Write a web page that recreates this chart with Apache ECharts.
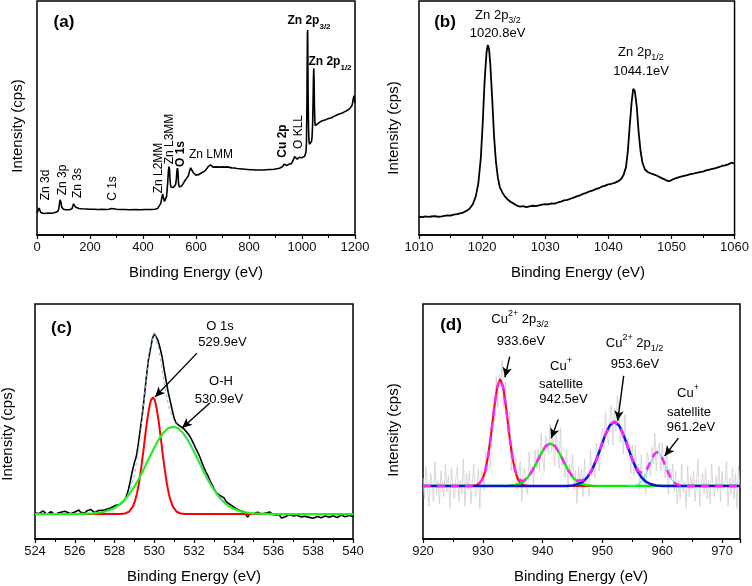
<!DOCTYPE html>
<html><head><meta charset="utf-8">
<script src="https://cdn.jsdelivr.net/npm/echarts/dist/echarts.min.js"></script>
<style>html,body{margin:0;padding:0;background:#fff}#c{width:752px;height:586px}</style>
</head><body><div id="c"></div>
<script>
// ---------------- DATA ----------------
// (a) survey spectrum [binding energy eV, relative intensity]
const surveyData = [[0,9.4],[3,9.3],[6,9.8],[8,11.5],[10,12.3],[12,11.0],[14,9.6],[18,9.3],[25,9.2],[35,9.3],[45,9.4],[55,9.3],[65,9.5],[72,9.6],[78,10.0],[82,11.2],[85,13.5],[87,15.0],[89,15.2],[91,13.8],[93,12.0],[96,11.3],[100,11.0],[108,10.8],[115,10.9],[122,10.8],[128,10.9],[132,11.2],[135,12.3],[138,13.3],[140,13.6],[142,13.0],[145,12.0],[150,11.4],[158,11.3],[170,11.2],[185,11.1],[200,11.0],[215,11.0],[230,10.9],[245,11.0],[260,10.9],[272,11.0],[280,11.3],[284,11.9],[287,11.8],[290,11.2],[300,11.0],[315,10.9],[330,10.9],[350,10.8],[370,10.9],[390,10.8],[410,10.9],[430,10.9],[445,11.0],[455,11.3],[462,12.0],[467,13.5],[471,15.8],[474,17.5],[477,16.0],[481,14.3],[485,14.5],[489,16.5],[493,22],[496,27.5],[498,29.2],[500,28.0],[502,23.5],[505,20.5],[509,19.8],[514,20.3],[519,20.8],[523,21.5],[526,24],[528,27.5],[530,28.6],[532,27],[534,22],[537,20.5],[541,20.0],[546,21.0],[552,22.0],[558,23.2],[565,24.3],[571,25.3],[576,27.4],[580,28.7],[583,29.3],[586,28.5],[590,26.6],[595,25.8],[600,25.6],[606,25.3],[612,25.9],[620,26.5],[627,27.0],[634,27.4],[640,28.0],[646,29.2],[650,29.8],[655,30.0],[659,29.5],[664,29.0],[670,29.4],[676,29.1],[682,29.3],[688,29.0],[695,29.3],[702,29.1],[710,29.0],[718,29.1],[725,28.9],[735,28.7],[745,28.6],[755,28.4],[765,28.3],[775,28.2],[785,28.1],[795,28.0],[805,27.9],[815,27.9],[825,27.8],[835,27.8],[845,27.8],[855,27.8],[865,27.9],[875,28.0],[885,28.0],[895,28.1],[905,28.3],[915,28.5],[922,28.8],[928,29.4],[932,30.3],[935,30.0],[938,29.5],[942,29.7],[946,30.0],[950,30.2],[955,30.0],[960,30.5],[964,31.2],[968,32.3],[972,33.5],[975,33.6],[978,32.8],[982,32.4],[986,32.5],[990,33.2],[993,33.8],[996,33.5],[999,33.0],[1002,33.3],[1006,33.5],[1010,33.6],[1013,34.0],[1015,35.5],[1017,40],[1018.5,55],[1019.5,72],[1020.5,86],[1021.3,87.6],[1022,78],[1023,60],[1024.5,47],[1026,41],[1028,38.8],[1030,38.3],[1032,38.6],[1034,39.2],[1036,40],[1038,42],[1040,47],[1041.5,55],[1043,66],[1044.3,71.2],[1045.5,67],[1047,55],[1048.5,48.5],[1050,46.8],[1053,46.6],[1056,47.2],[1060,47.6],[1065,48.0],[1070,48.5],[1075,48.4],[1080,48.9],[1085,49.2],[1090,49.3],[1095,49.6],[1100,49.8],[1105,50.1],[1110,50.0],[1115,50.5],[1120,50.7],[1125,50.9],[1130,51.2],[1135,51.3],[1140,51.7],[1145,51.9],[1150,52.0],[1155,52.4],[1160,52.6],[1165,53.0],[1170,53.2],[1175,53.6],[1180,54.0],[1185,54.5],[1188,55.2],[1191,56.5],[1194,58.5],[1196,59.5],[1198,58.0],[1200,56.5]];

// (b) Zn 2p region
const zn2pData = [[1010,7.8],[1010.5,7.6],[1011,8.0],[1011.5,7.7],[1012,7.9],[1012.5,8.1],[1013,7.8],[1013.3,8.6],[1013.6,8.0],[1014,8.2],[1014.5,8.4],[1015,8.3],[1015.5,8.7],[1016,8.9],[1016.5,9.2],[1017,9.6],[1017.5,10.3],[1018,11.2],[1018.5,13.0],[1019,16.5],[1019.4,22],[1019.8,33],[1020.1,48],[1020.4,66],[1020.7,78],[1020.9,81.2],[1021.1,79.5],[1021.3,73],[1021.6,58],[1021.9,42],[1022.2,31],[1022.5,24.5],[1022.8,20.5],[1023.2,18.2],[1023.6,16.5],[1024,15.3],[1024.5,14.2],[1025,13.4],[1025.5,12.6],[1026,12.1],[1026.5,12.3],[1027,11.9],[1027.5,12.2],[1028,12.5],[1028.5,12.3],[1029,12.7],[1029.5,13.0],[1030,13.2],[1030.5,13.1],[1031,13.5],[1031.5,13.4],[1032,13.9],[1032.5,14.3],[1033,14.8],[1033.5,15.0],[1034,15.5],[1034.5,16.0],[1035,16.5],[1035.5,16.9],[1036,17.6],[1036.5,18.0],[1037,18.6],[1037.5,19.0],[1038,19.6],[1038.5,20.0],[1039,20.7],[1039.5,21.1],[1040,21.6],[1040.5,21.9],[1041,22.3],[1041.5,22.9],[1042,23.8],[1042.4,25.5],[1042.8,29],[1043.1,36],[1043.4,47],[1043.7,57],[1043.95,62.5],[1044.2,61.5],[1044.5,55],[1044.8,44],[1045.1,36],[1045.4,31],[1045.8,28],[1046.3,26.8],[1046.8,26.2],[1047.3,25.8],[1047.8,25.2],[1048.3,24.5],[1048.8,23.9],[1049.3,23.2],[1049.7,23.0],[1050.1,23.6],[1050.5,24.1],[1051,24.5],[1051.5,24.9],[1052,25.3],[1052.5,25.6],[1053,26.0],[1053.5,26.2],[1054,26.6],[1054.5,26.9],[1055,27.1],[1055.5,27.6],[1056,27.9],[1056.5,28.3],[1057,28.6],[1057.5,29.0],[1058,29.5],[1058.5,29.8],[1059,30.2],[1059.5,30.9],[1060,30.5]];

// (c) O 1s region
const o1sData = [[524.0,11.0],[524.1,10.2],[524.2,10.8],[524.3,11.5],[524.4,12.0],[524.5,11.3],[524.6,10.5],[524.8,11.6],[524.9,11.0],[525.0,10.4],[525.2,11.2],[525.3,10.6],[525.5,11.8],[525.6,11.0],[525.8,10.8],[526.0,11.5],[526.2,12.3],[526.3,11.4],[526.5,11.0],[526.6,11.9],[526.8,12.6],[526.9,11.8],[527.0,11.2],[527.2,12.1],[527.3,11.4],[527.5,12.3],[527.6,12.9],[527.8,13.2],[528.0,14.1],[528.1,13.6],[528.3,14.8],[528.5,16.5],[528.6,18.2],[528.7,21.0],[528.8,24.8],[528.9,29.0],[529.0,32.5],[529.1,35.2],[529.2,40.5],[529.3,46.8],[529.4,53.0],[529.5,60.5],[529.6,68.5],[529.7,75.8],[529.8,80.5],[529.9,85.0],[530.0,87.3],[530.1,86.0],[530.2,84.2],[530.3,81.0],[530.4,77.3],[530.5,72.0],[530.6,67.2],[530.7,62.5],[530.8,58.8],[530.9,55.0],[531.0,51.5],[531.1,49.3],[531.2,48.6],[531.3,48.0],[531.4,47.5],[531.5,46.8],[531.6,46.0],[531.7,44.8],[531.8,43.6],[531.9,42.0],[532.0,40.2],[532.1,38.3],[532.2,36.7],[532.3,34.8],[532.4,32.5],[532.5,30.4],[532.6,28.6],[532.7,26.9],[532.8,25.0],[532.9,23.2],[533.0,21.5],[533.1,20.0],[533.2,19.2],[533.3,18.5],[533.4,18.8],[533.5,17.6],[533.6,16.2],[533.7,15.3],[533.8,14.6],[533.9,14.2],[534.0,13.7],[534.1,13.0],[534.2,12.6],[534.3,12.1],[534.4,12.3],[534.5,11.6],[534.6,11.0],[534.7,9.3],[534.8,10.6],[534.9,11.2],[535.0,10.7],[535.2,11.4],[535.4,10.6],[535.6,11.0],[535.8,11.5],[536.0,10.3],[536.1,9.6],[536.3,10.2],[536.4,8.9],[536.6,9.5],[536.8,10.4],[537.0,9.8],[537.2,10.1],[537.4,9.4],[537.6,9.7],[537.8,9.2],[538.0,8.8],[538.2,9.6],[538.4,9.0],[538.6,9.8],[538.8,9.3],[539.0,9.9],[539.2,9.1],[539.4,10.2],[539.6,9.5],[539.8,10.0],[540.0,9.6]];
const o1sFitLattice = [[524,10.6],[528.33,10.65],[528.53,10.85],[528.73,11.6],[528.93,13.9],[529.03,16.2],[529.13,19.4],[529.23,23.8],[529.33,29.4],[529.43,35.9],[529.53,42.9],[529.63,49.6],[529.73,55.2],[529.83,59.0],[529.93,60.3],[530.03,59.0],[530.13,55.2],[530.23,49.6],[530.33,42.9],[530.43,35.9],[530.53,29.4],[530.63,23.8],[530.73,19.4],[530.83,16.2],[530.93,13.9],[531.13,11.6],[531.33,10.85],[531.53,10.65],[540,10.6]];
const o1sFitOH = [[524,10.6],[525.95,10.6],[526.95,10.9],[527.45,11.5],[527.95,13.0],[528.2,14.3],[528.45,16.1],[528.7,18.6],[528.95,21.6],[529.2,25.2],[529.45,29.3],[529.7,33.7],[529.95,38.0],[530.2,42.0],[530.45,45.1],[530.7,47.1],[530.95,47.8],[531.2,47.1],[531.45,45.1],[531.7,42.0],[531.95,38.0],[532.2,33.7],[532.45,29.3],[532.7,25.2],[532.95,21.6],[533.2,18.6],[533.45,16.1],[533.7,14.3],[533.95,13.0],[534.45,11.5],[534.95,10.9],[535.95,10.6],[540,10.6]];
const o1sEnvelope = [[528.5,16.75],[528.75,20.2],[529.0,27.1],[529.25,40.3],[529.5,60.4],[529.75,80.1],[530.0,87.9],[530.25,80.3],[530.5,66.3],[530.75,55.5],[531.0,50.1],[531.5,44.55],[532.0,37.2],[532.5,28.5],[533.0,20.9],[533.5,15.7]];

// (d) Cu 2p region: raw data sampled from 920 eV every 0.25 eV
const cuRawStart = 920, cuRawStep = 0.25;
const cuRaw = [26,17,31,21,14,28,24,16,33,19,25,15,29,22,18,32,20,27,13,30,23,17,26,31,16,25,19,34,14,28,21,29,
15,24,32,18,20,30,13,29,28,21,37,29,
40,30,44,55,50,69,56,70,67,76,56,67,
57,45,54,29,39,29,35,21,27,33,16,28,
30,22,19,37,27,31,22,38,30,38,29,45,
36,29,44,41,36,49,37,43,31,45,38,30,
47,31,35,26,38,21,32,26,36,21,29,15,
31,23,30,18,34,22,28,18,38,27,33,26,
41,35,29,43,47,38,54,44,40,51,57,40,
55,46,61,55,41,48,36,53,38,43,36,28,
40,27,40,28,32,21,36,24,28,19,37,33,
27,39,32,45,29,38,41,29,41,31,26,40,
19,30,25,32,20,29,15,25,17,32,20,24,
13,31,18,27,21,29,16,26,34,14,23,28,19,30,17,25,15,32,22,18,27,20,31,16,29,21,24,33,14,26,19,30,17,28,13,31,22];
const cuFit2p32 = [[920,22.6],[927.9,22.6],[928.4,22.7],[928.9,22.9],[929.4,23.6],[929.9,25.3],[930.4,28.9],[930.9,35.5],[931.4,44.9],[931.9,55.7],[932.4,64.6],[932.9,68.0],[933.4,64.6],[933.9,55.7],[934.4,44.9],[934.9,35.5],[935.4,28.9],[935.9,25.3],[936.4,23.6],[936.9,22.9],[937.4,22.7],[937.9,22.6],[973,22.6]];
const cuFitSat1 = [[920,22.6],[933.3,22.6],[934.3,22.7],[935.3,22.9],[936.05,23.4],[936.8,24.4],[937.55,26.3],[938.3,29.1],[939.05,32.8],[939.8,36.6],[940.55,39.6],[941.3,40.7],[942.05,39.6],[942.8,36.6],[943.55,32.8],[944.3,29.1],[945.05,26.3],[945.8,24.4],[946.55,23.4],[947.3,22.9],[948.3,22.7],[949.3,22.6],[973,22.6]];
const cuFit2p12 = [[920,22.6],[944,22.6],[945,22.8],[946,23.4],[946.75,24.4],[947.5,26.3],[948.25,29.4],[949,33.8],[949.75,39.2],[950.5,44.5],[951.25,48.4],[952,49.9],[952.75,48.4],[953.5,44.5],[954.25,39.2],[955,33.8],[955.75,29.4],[956.5,26.3],[957.25,24.4],[958,23.4],[959,22.8],[960,22.6],[973,22.6]];
const cuFitSat2 = [[954.2,22.6],[955.2,22.7],[955.7,23.0],[956.2,23.6],[956.7,24.8],[957.2,27.0],[957.7,30.0],[958.2,33.2],[958.7,35.9],[959.2,36.9],[959.7,35.9],[960.2,33.2],[960.7,30.0],[961.2,27.0],[961.7,24.8],[962.2,23.6],[962.7,23.0],[963.2,22.7],[964.2,22.6]];
const cuEnvelope = [[920,22.6],[928,22.6],[928.9,22.9],[929.4,23.6],[929.9,25.3],[930.4,28.9],[930.9,35.5],[931.4,44.9],[931.9,55.7],[932.4,64.6],[932.9,68.0],[933.4,64.6],[933.9,55.7],[934.4,44.9],[934.9,35.7],[935.4,29.25],[935.9,26.0],[936.4,24.8],[936.9,24.9],[937.55,26.35],[938.3,29.1],[939.05,32.8],[939.8,36.6],[940.55,39.6],[941.3,40.7],[942.05,39.6],[942.8,36.6],[943.55,32.8],[944.3,29.1],[945.05,26.5],[945.8,25.0],[946.55,24.85],[947.3,26.0],[948.0,28.3],[948.75,32.25],[949.5,37.3],[950.25,42.8],[951.0,47.3],[951.5,49.2],[952.0,49.9],[952.5,49.2],[953.0,47.3],[953.75,42.8],[954.5,37.3],[955.25,32.4],[956.0,28.9],[956.75,28.0],[957.5,30.1],[958.2,33.8],[958.7,36.2],[959.2,37.05],[959.7,36.0],[960.2,33.2],[960.7,29.95],[961.2,27.0],[961.7,24.85],[962.2,23.6],[962.7,23.0],[963.2,22.7],[964,22.6],[973,22.6]];

// annotation arrows (data coordinates: [from, to])
const arrowsC = [[[532.15,79.1],[530.04,60.4]],[[532.8,57.9],[531.4,47.2]]];
const arrowsD = [[[934.5,77.6],[933.7,68.8]],[[942.6,50.9],[941.45,42.9]],[[953.55,69.4],[952.55,50.3]],[[962.7,42.9],[960.4,35.3]]];

// ---------------- CHART ----------------
const FONT = '"Liberation Sans", Arial, sans-serif';
const chart = echarts.init(document.getElementById('c'), null, {renderer:'canvas'});

const grids = [
  {left:37, top:1, width:318, height:234},
  {left:419, top:1, width:318, height:234},
  {left:35, top:304, width:318, height:235},
  {left:423, top:304, width:317, height:235}
].map(g => Object.assign({show:true, borderColor:'#000', borderWidth:1.5, backgroundColor:'transparent', containLabel:false}, g));

function xAx(gi, min, max, interval, fmt) {
  return {type:'value', gridIndex:gi, min, max, interval,
    axisLine:{show:true, onZero:false, lineStyle:{color:'#000', width:1.5}},
    axisTick:{show:true, inside:false, length:4, lineStyle:{color:'#000', width:1.2}},
    minorTick:{show:true, splitNumber:2, length:3, lineStyle:{color:'#000', width:1}},
    splitLine:{show:false}, minorSplitLine:{show:false},
    axisLabel:{fontSize:13, color:'#111', fontFamily:FONT, margin:6, formatter: fmt || (v => String(v))}};
}
function yAx(gi) {
  return {type:'value', gridIndex:gi, min:0, max:100, axisLine:{show:false}, axisTick:{show:false}, axisLabel:{show:false}, splitLine:{show:false}};
}
function line(gi, data, color, width, extra) {
  return Object.assign({type:'line', xAxisIndex:gi, yAxisIndex:gi, data, symbol:'none', showSymbol:false, silent:true, animation:false,
    lineStyle:{color, width}, emphasis:{disabled:true}}, extra || {});
}
function arrowMark(arr) {
  return {silent:true, animation:false, symbol:['none','arrow'], symbolSize:[7,10], label:{show:false},
    lineStyle:{color:'#000', width:1.4, type:'solid'}, emphasis:{disabled:true},
    data: arr.map(a => [{coord:a[0]}, {coord:a[1]}])};
}

function rich(size, bold) {
  const w = bold ? 'bold' : 'normal';
  return {
    n:{fontSize:size, fontFamily:FONT, fontWeight:w, fill:'#000', color:'#000', lineHeight:20, verticalAlign:'middle'},
    sup:{fontSize:Math.round(size*0.68), fontFamily:FONT, fontWeight:w, fill:'#000', color:'#000', lineHeight:9, verticalAlign:'top'},
    sub:{fontSize:Math.round(size*0.68), fontFamily:FONT, fontWeight:w, fill:'#000', color:'#000', lineHeight:9, verticalAlign:'bottom'}
  };
}
function txt(x, y, text, size, bold, rot) {
  return {type:'text', x, y, rotation: rot ? Math.PI/2 : 0, silent:true, z:100,
    style:{text, fill:'#000', fontSize:size, fontFamily:FONT, fontWeight: bold ? 'bold':'normal',
      align:'center', verticalAlign:'middle', textAlign:'center', textVerticalAlign:'middle', rich: rich(size, bold)}};
}

const graphics = [
  // axis names
  txt(196, 273, 'Binding Energy (eV)', 15), txt(578, 273, 'Binding Energy (eV)', 15),
  txt(194, 577, 'Binding Energy (eV)', 15), txt(581, 577, 'Binding Energy (eV)', 15),
  txt(17.5, 126, 'Intensity (cps)', 15, false, true), txt(393.5, 128, 'Intensity (cps)', 15, false, true),
  txt(8, 434, 'Intensity (cps)', 15, false, true), txt(393.5, 430, 'Intensity (cps)', 15, false, true),
  // panel letters
  txt(64, 22, '(a)', 17, true), txt(445, 22, '(b)', 17, true), txt(61.5, 328, '(c)', 17, true), txt(451, 325, '(d)', 17, true),
  // (a) peak labels
  txt(309, 21, '{n|Zn 2p}{sub|3/2}', 12, true), txt(330, 62, '{n|Zn 2p}{sub|1/2}', 12, true),
  txt(45.5, 185, 'Zn 3d', 12, false, true), txt(63, 180, 'Zn 3p', 12, false, true), txt(77.5, 183, 'Zn 3s', 12, false, true),
  txt(112.5, 188.5, 'C 1s', 12, false, true), txt(158.5, 168, 'Zn L2MM', 12, false, true), txt(170, 139, 'Zn L3MM', 12, false, true),
  txt(180.5, 154, 'O 1s', 12, true, true), txt(211, 155, 'Zn LMM', 12), txt(282.5, 141, 'Cu 2p', 12, true, true),
  txt(298.5, 132, 'O KLL', 12, false, true),
  // (b)
  txt(498, 15, '{n|Zn 2p}{sub|3/2}', 13), txt(497.5, 33, '1020.8eV', 13),
  txt(641, 52, '{n|Zn 2p}{sub|1/2}', 13), txt(641, 71, '1044.1eV', 13),
  // (c)
  txt(220, 326, 'O 1s', 13), txt(222.5, 342.5, '529.9eV', 13),
  txt(221, 381, 'O-H', 13), txt(219, 399, '530.9eV', 13),
  // (d)
  txt(520, 319, '{n|Cu}{sup|2+}{n| 2p}{sub|3/2}', 13), txt(521, 341, '933.6eV', 13),
  txt(561, 366, '{n|Cu}{sup|+}', 13), txt(561, 384, 'satellite', 13), txt(563.5, 399, '942.5eV', 13),
  txt(634.5, 343, '{n|Cu}{sup|2+}{n| 2p}{sub|1/2}', 13), txt(635, 364, '953.6eV', 13),
  txt(688, 393, '{n|Cu}{sup|+}', 13), txt(689, 412.5, 'satellite', 13), txt(691, 427.5, '961.2eV', 13)
];

const cuRawPairs = cuRaw.map((v, i) => [cuRawStart + i * cuRawStep, v]);

const option = {
  animation:false,
  backgroundColor:'#fff',
  textStyle:{fontFamily:FONT},
  grid: grids,
  xAxis: [
    xAx(0, 0, 1200, 200),
    xAx(1, 1010, 1060, 10),
    xAx(2, 524, 540, 2),
    xAx(3, 920, 973, 10, v => (v % 10 === 0 ? String(v) : ''))
  ],
  yAxis: [yAx(0), yAx(1), yAx(2), yAx(3)],
  series: [
    line(0, surveyData, '#000', 1.6),
    line(1, zn2pData, '#000', 1.8),
    line(2, o1sData, '#000', 1.6, {markLine: arrowMark(arrowsC)}),
    line(2, o1sFitLattice, '#ff0000', 2),
    line(2, o1sFitOH, '#22ee22', 2.2),
    line(2, o1sEnvelope, '#7fb6c8', 1, {lineStyle:{color:'#7fb6c8', width:1, type:[3,3]}}),
    line(3, cuRawPairs, '#cfcfcf', 0.8),
    line(3, cuFit2p32, '#ff0000', 2),
    line(3, cuFitSat1, '#00ee00', 2.2),
    line(3, cuFitSat2, '#33e6f0', 1),
    line(3, cuFit2p12, '#1010e0', 2.5, {markLine: arrowMark(arrowsD)}),
    line(3, cuEnvelope, '#ff22ff', 2.5, {lineStyle:{color:'#ff22ff', width:2.5, type:[8,6]}})
  ],
  graphic: graphics
};
chart.setOption(option);
</script></body></html>
